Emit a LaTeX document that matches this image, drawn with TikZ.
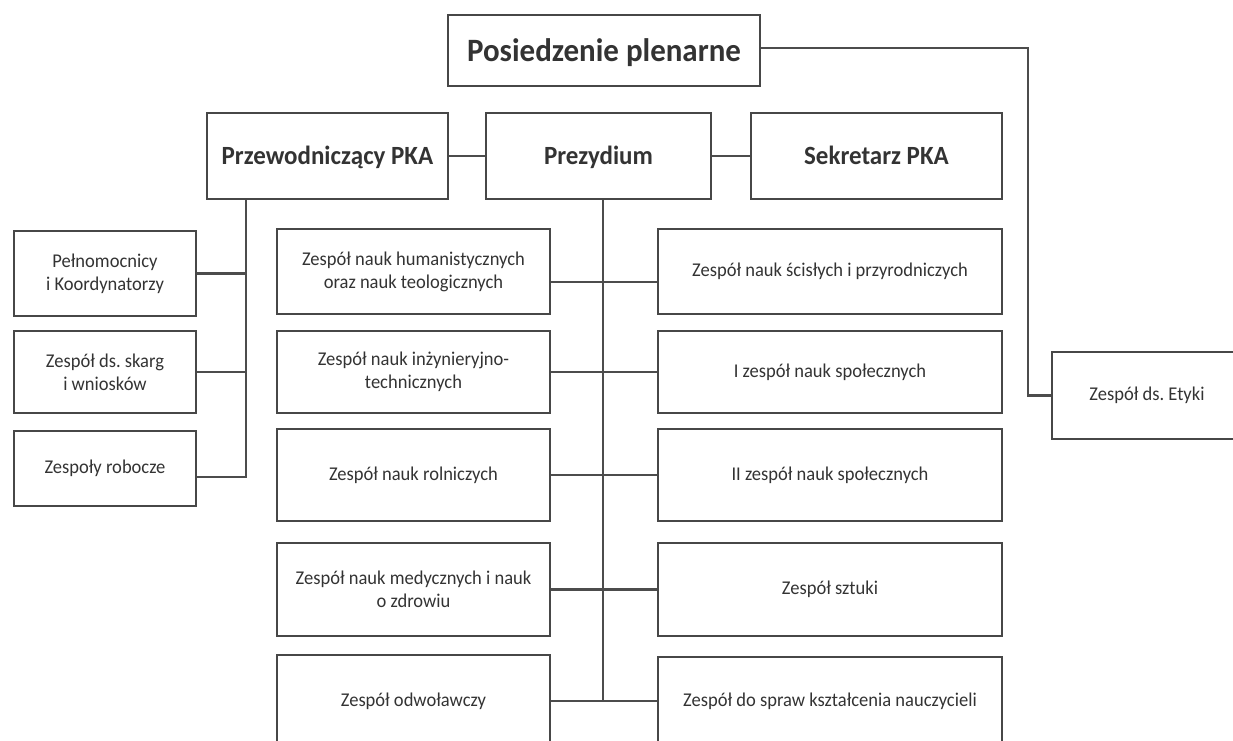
\documentclass[tikz,border=0pt]{standalone}
\usepackage{fontspec}
\setmainfont{Carlito}[FakeStretch=0.95]
\usetikzlibrary{positioning}
\frenchspacing

\begin{document}
\begin{tikzpicture}[x=1pt,y=-1pt,on grid,
    frame/.style={draw=black!72,line width=2.6pt,text=black!80,inner sep=0pt},
    box/.style={frame,align=center,font=\fontsize{19.5}{23}\selectfont},
    head/.style={frame,font=\fontsize{26.3}{30}\bfseries\selectfont,minimum height=86pt,
        text height=21pt,text depth=4.2pt},
    line/.style={draw=black!70,line width=2.1pt}]
    \useasboundingbox (0,0) rectangle (1233,740);
		\node[head,font=\fontsize{32.6}{36}\bfseries\selectfont,text height=26pt,text depth=5pt,minimum width=312pt,minimum height=71pt] (plen) at (604,50.5) {Posiedzenie plenarne};
		\node[head,minimum width=225pt] (prez) at (598.5,156) {Prezydium};
		\node[head,minimum width=241pt] (przew) [left=271pt of prez] {Przewodniczący PKA};
		\node[head,minimum width=251pt] (sekr) [right=278pt of prez] {Sekretarz PKA};
		% lewa kolumna
		\node[box,minimum width=182pt,minimum height=85pt] (peln) at (105,273.5) {Pełnomocnicy\\i Koordynatorzy};
		\node[box,minimum width=182pt,minimum height=82pt] (skarg) [below=98.5pt of peln] {Zespół ds. skarg\\i wniosków};
		\node[box,minimum width=182pt,minimum height=75pt] (robocze) [below=96.5pt of skarg] {Zespoły robocze};
		% zespoly dziedzinowe
		\node[box,minimum width=273pt,minimum height=85pt] (hum) at (413.5,271.5) {Zespół nauk humanistycznych\\oraz nauk teologicznych};
		\node[box,minimum width=273pt,minimum height=82pt] (inz) [below=100.5pt of hum] {Zespół nauk inżynieryjno-\\technicznych};
		\node[box,minimum width=273pt,minimum height=92pt] (rol) [below=103pt of inz] {Zespół nauk rolniczych};
		\node[box,minimum width=273pt,minimum height=93pt] (med) [below=114.5pt of rol] {Zespół nauk medycznych i nauk\\o zdrowiu};
		\node[box,minimum width=273pt,minimum height=92pt] (odw) [below=111.5pt of med] {Zespół odwoławczy};
		\node[box,minimum width=344pt,minimum height=85pt] (scis) [right=416.5pt of hum] {Zespół nauk ścisłych i przyrodniczych};
		\node[box,minimum width=344pt,minimum height=82pt] (spol1) [right=416.5pt of inz] {I zespół nauk społecznych};
		\node[box,minimum width=344pt,minimum height=92pt] (spol2) [right=416.5pt of rol] {II zespół nauk społecznych};
		\node[box,minimum width=344pt,minimum height=93pt] (sztuki) [right=416.5pt of med] {Zespół sztuki};
		\node[box,minimum width=344pt,minimum height=88pt] (naucz) [right=416.5pt of odw] {Zespół do spraw kształcenia nauczycieli};
		\node[box,minimum width=190pt,minimum height=87pt] (etyki) at (1147,395.5) {Zespół ds. Etyki};
		% polaczenia
		\path[line] (przew) edge (prez) (prez) edge (sekr);
		\draw[line] ([yshift=2.5pt]plen.east) -- ++(267,0) |- (etyki.west);
		\draw[line] ([xshift=40pt]przew.south west) coordinate (ltop) |- ([yshift=-8.5pt]robocze.east);
		\path[line] (peln) edge (peln -| ltop) (skarg) edge (skarg -| ltop);
		\draw[line] ([xshift=4.5pt]prez.south) coordinate (mtop) -- (mtop |- odw);
		\path[line]
			([yshift=-10.5pt]hum.east) edge ([yshift=-10.5pt]scis.west)
			(inz) edge (spol1)
			(rol) edge (spol2)
			(med) edge (sztuki)
			(odw) edge (naucz);
   	\end{tikzpicture}
\end{document}
